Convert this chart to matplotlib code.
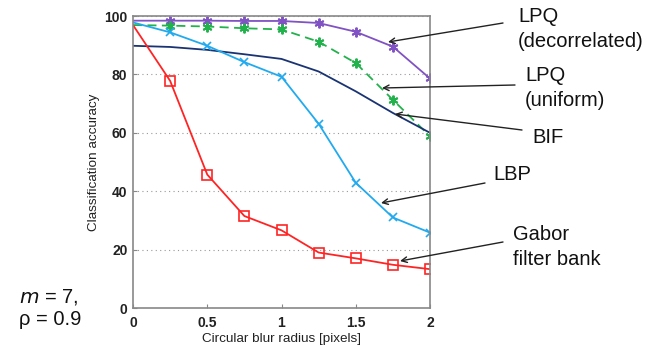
import matplotlib
matplotlib.use("Agg")
import matplotlib.pyplot as plt

plt.rcParams['font.family'] = ['Liberation Sans', 'DejaVu Sans']

radius = [0, 0.25, 0.5, 0.75, 1.0, 1.25, 1.5, 1.75, 2.0]
lpq_decorr = [98.4, 98.4, 98.4, 98.3, 98.3, 97.6, 94.6, 89.5, 78.6]
lpq_uniform = [96.9, 96.7, 96.4, 95.8, 95.4, 91.2, 83.9, 71.3, 58.8]
bif = [89.8, 89.4, 88.4, 86.9, 85.3, 81.0, 74.2, 66.8, 60.0]
lbp = [97.8, 94.4, 89.8, 84.2, 79.2, 63.1, 42.9, 31.0, 25.8]
gabor = [96.9, 77.8, 45.7, 31.5, 26.6, 19.0, 17.0, 14.8, 13.3]

xticks = [0, 0.5, 1, 1.5, 2]
yticks = [0, 20, 40, 60, 80, 100]

fig = plt.figure(figsize=(6.62, 3.47), dpi=100)
W, H = 662, 347
ax = fig.add_axes([133 / W, 1 - 308 / H, (430 - 133) / W, (308 - 16) / H])

mk = list(range(1, len(radius)))
ax.plot(radius, lpq_decorr, color='#8052c4', lw=1.3, marker=(6, 2, 0), ms=7,
        mew=1.4, markevery=mk)
ax.plot(radius, lpq_uniform, color='#22b24c', lw=1.3, ls=(0, (5, 3)),
        marker=(6, 2, 0), ms=7, mew=1.4, markevery=mk)
ax.plot(radius, bif, color='#1a3372', lw=1.3)
ax.plot(radius, lbp, color='#22aaee', lw=1.3, marker='x', ms=6, mew=1.2,
        markevery=mk)
ax.plot(radius, gabor, color='#ff2424', lw=1.3, marker='s', ms=7, mew=1.2,
        mfc='none', markevery=mk)

ax.set_xlim(0, 2)
ax.set_ylim(0, 100)
ax.set_xticks(xticks)
ax.set_xticklabels(['0', '0.5', '1', '1.5', '2'], fontsize=10, fontweight='bold', color='#222222')
ax.set_yticks(yticks)
ax.set_yticklabels([str(v) for v in yticks], fontsize=10, fontweight='bold', color='#222222')
ax.tick_params(direction='in', length=3, color='#888888')
ax.tick_params(axis='x', pad=6)
ax.tick_params(axis='y', pad=4)
for s in ax.spines.values():
    s.set_color('#888888')
    s.set_linewidth(1.2)
ax.yaxis.grid(True, ls=(0, (1, 3)), color='#999999', lw=0.8)
ax.set_xlabel('Circular blur radius [pixels]', fontsize=9.7, color='#222222', labelpad=2)
ax.set_ylabel('Classification accuracy', fontsize=9.7, color='#222222', labelpad=3)

def px(x, y):
    return (x / W, 1 - y / H)

arrow = dict(arrowstyle='->', color='#222222', lw=1.0, shrinkA=0, shrinkB=0)
notes = [
    ('LPQ\n(decorrelated)', (518, 29), (503, 23), (388, 42)),
    ('LPQ\n(uniform)', (525, 88), (515, 85), (382, 88)),
    ('BIF', (532, 137), (522, 130), (395, 114)),
    ('LBP', (493, 175), (485, 183), (381, 203)),
    ('Gabor\nfilter bank', (513, 247), (503, 242), (400, 261)),
]
for txt, tpos, start, end in notes:
    fig.text(*px(*tpos), txt, fontsize=14.5, ha='left', va='center',
             color='#111111', linespacing=1.35)
    ax.annotate('', xy=px(*end), xycoords='figure fraction',
                xytext=px(*start), textcoords='figure fraction',
                arrowprops=arrow, annotation_clip=False)

fig.text(*px(19, 308), '$m$ = 7,\nρ = 0.9', fontsize=14.5, ha='left', va='center',
         color='#111111', linespacing=1.2)

fig.savefig('out.png', dpi=100)
